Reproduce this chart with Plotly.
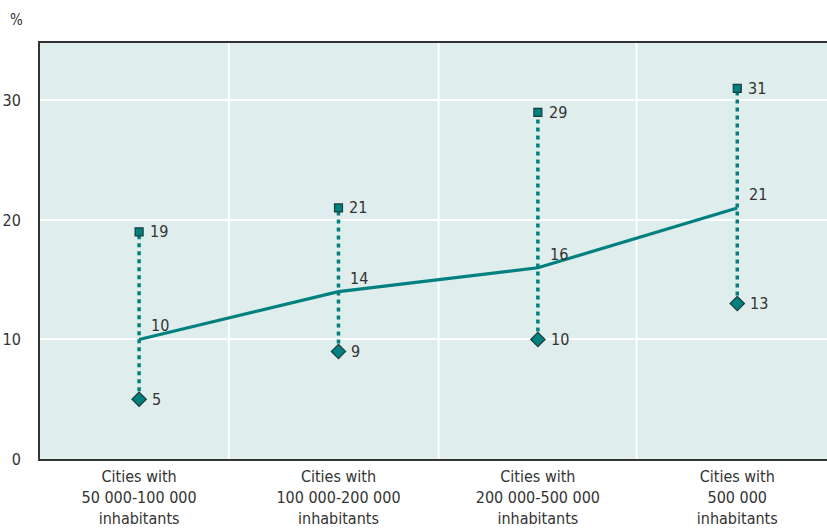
import plotly.graph_objects as go

# City size groups and share (%) values: lowest, median and highest
categories = [
    "Cities with<br>50 000-100 000<br>inhabitants",
    "Cities with<br>100 000-200 000<br>inhabitants",
    "Cities with<br>200 000-500 000<br>inhabitants",
    "Cities with<br>500 000<br>inhabitants",
]
low_values = [5, 9, 10, 13]
median_values = [10, 14, 16, 21]
high_values = [19, 21, 29, 31]
y_ticks = [0, 10, 20, 30]

TEAL = "#00807f"
EDGE = "#1c3b3b"
FONT = "Liberation Sans Narrow, DejaVu Sans Condensed, Arial Narrow, sans-serif"

xs = list(range(len(categories)))

fig = go.Figure()

# Dotted range bars from lowest to highest
rx, ry = [], []
for x, lo, hi in zip(xs, low_values, high_values):
    rx += [x, x, None]
    ry += [lo, hi, None]
fig.add_trace(go.Scatter(
    x=rx, y=ry, mode="lines",
    line=dict(color=TEAL, width=3.5, dash="4px,4px"),
    hoverinfo="skip", showlegend=False,
))

# Median line
fig.add_trace(go.Scatter(
    x=xs, y=median_values, mode="lines",
    line=dict(color=TEAL, width=3.2),
    showlegend=False,
))

# Highest values (squares) and lowest values (diamonds)
fig.add_trace(go.Scatter(
    x=xs, y=high_values, mode="markers",
    marker=dict(symbol="square", size=8, color=TEAL, line=dict(color=EDGE, width=1.2)),
    showlegend=False,
))
fig.add_trace(go.Scatter(
    x=xs, y=low_values, mode="markers",
    marker=dict(symbol="diamond", size=11, color=TEAL, line=dict(color=EDGE, width=1.2)),
    showlegend=False,
))

annotations = []
for x, v in zip(xs, high_values):
    annotations.append(dict(x=x, y=v, text=str(v), showarrow=False,
                            xanchor="left", yanchor="middle", xshift=9))
for x, v in zip(xs, low_values):
    annotations.append(dict(x=x, y=v, text=str(v), showarrow=False,
                            xanchor="left", yanchor="middle", xshift=11))
for x, v in zip(xs, median_values):
    annotations.append(dict(x=x, y=v, text=str(v), showarrow=False,
                            xanchor="left", yanchor="bottom", xshift=10, yshift=2))
annotations.append(dict(x=-0.041, y=1.082, xref="paper", yref="paper", text="%",
                        showarrow=False, xanchor="left", yanchor="top",
                        font=dict(size=15, color="#333333")))

# Vertical separators between groups
shapes = []
for sx in [0.45, 1.502, 2.495]:
    shapes.append(dict(type="line", xref="x", yref="paper", x0=sx, x1=sx, y0=0, y1=1,
                       line=dict(color="white", width=2), layer="below"))

fig.update_layout(
    width=827, height=528,
    margin=dict(l=40, r=0, t=43, b=69),
    paper_bgcolor="white",
    plot_bgcolor="#dfeded",
    font=dict(family=FONT, size=16, color="#333333"),
    annotations=annotations,
    shapes=shapes,
    showlegend=False,
)
fig.update_xaxes(
    range=[-0.497, 3.45],
    tickvals=xs, ticktext=categories,
    showgrid=False, zeroline=False,
    showline=True, linecolor="#333333", linewidth=2, mirror=True,
    ticks="", ticklabelstandoff=2, automargin=False,
    tickfont=dict(size=16),
)
fig.update_yaxes(
    range=[0, 34.8],
    tickvals=y_ticks,
    showgrid=True, gridcolor="white", gridwidth=2,
    zeroline=False,
    showline=True, linecolor="#333333", linewidth=2,
    ticks="", ticklabelstandoff=14, automargin=False,
    tickfont=dict(size=16),
)

fig.write_html("out.html")
